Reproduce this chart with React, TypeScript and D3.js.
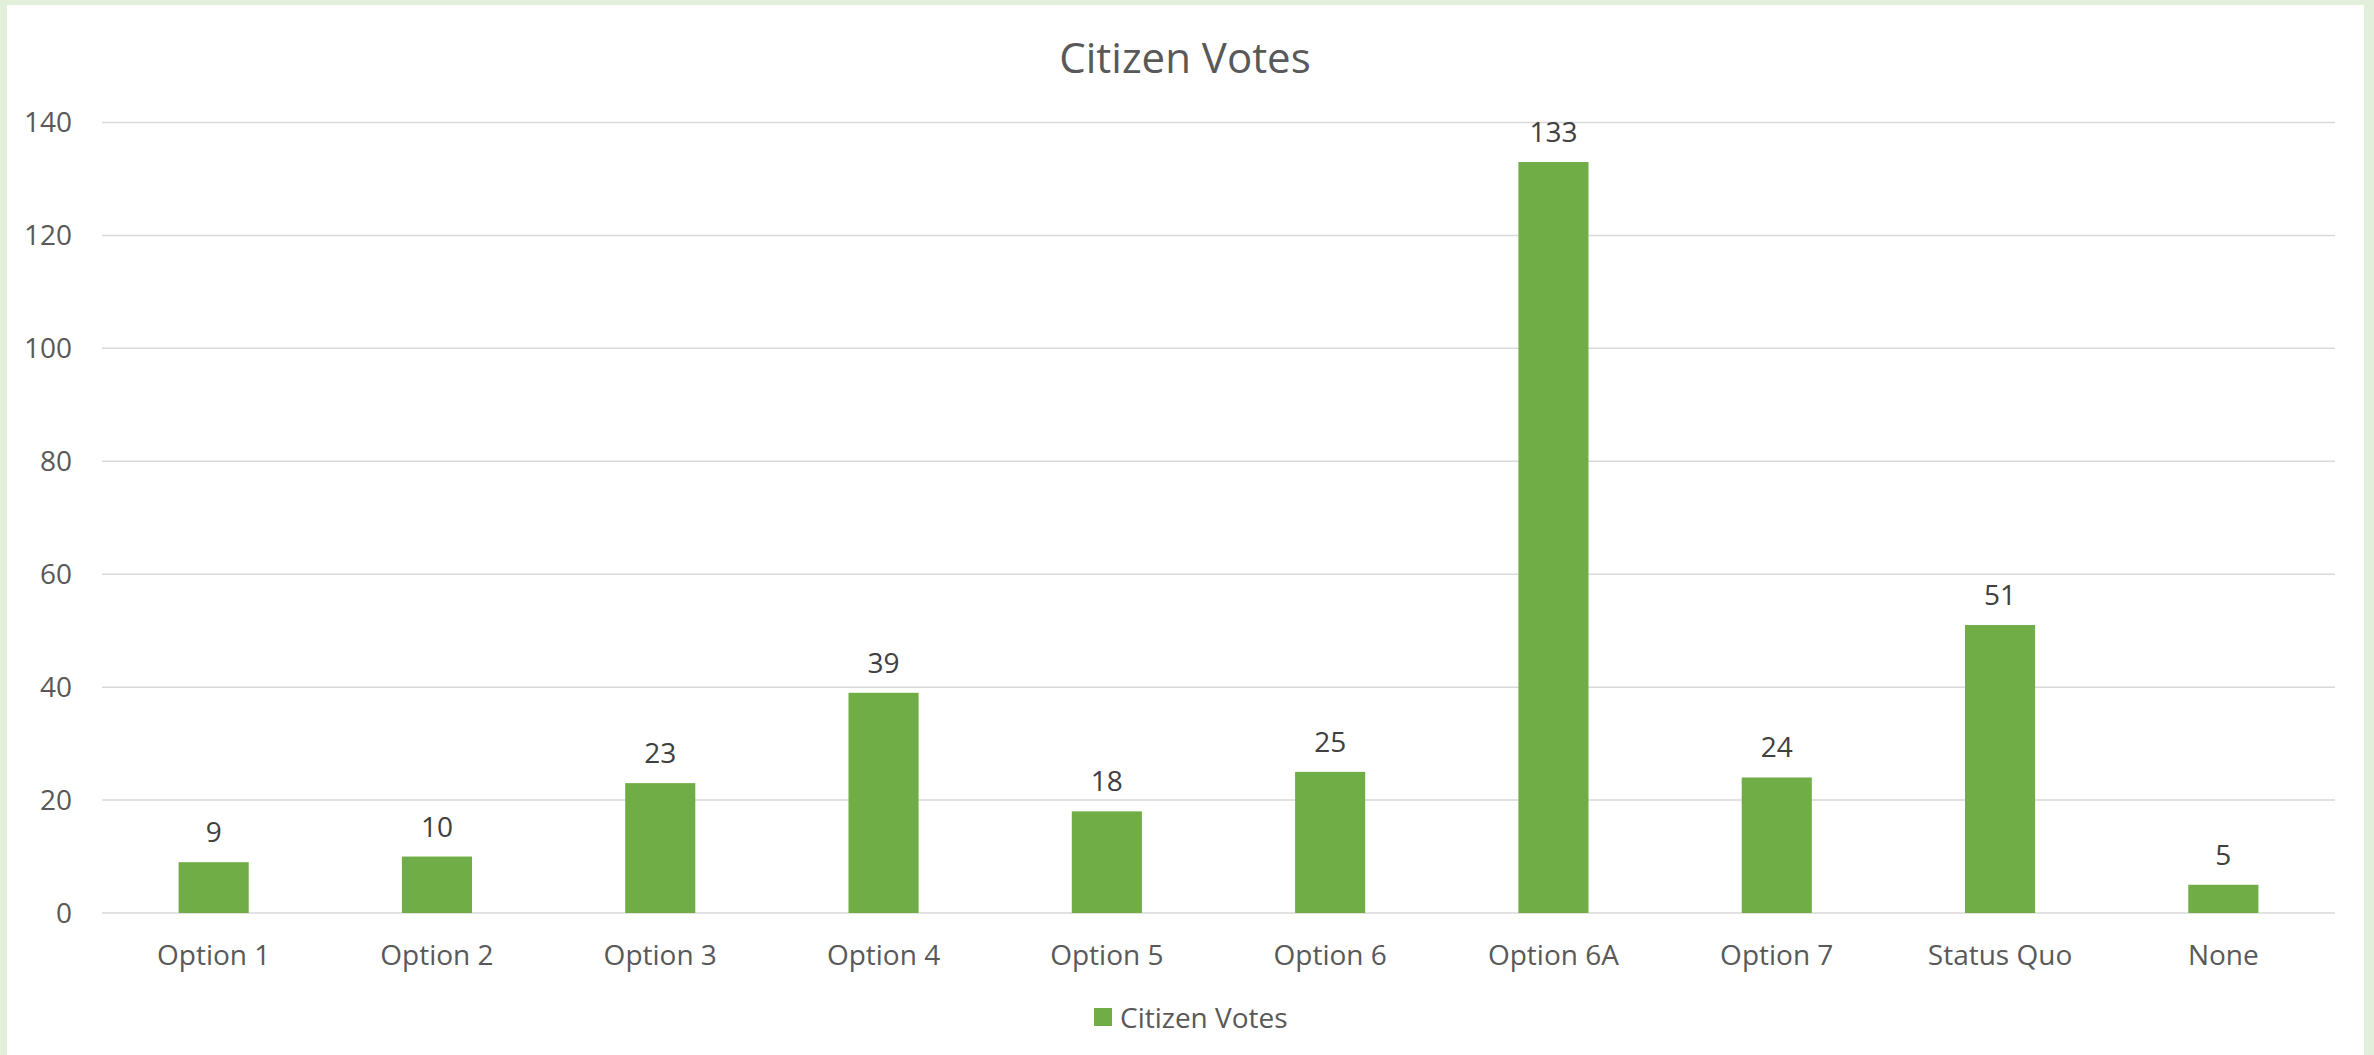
import React from "react";
import * as d3 from "d3";

const categories = ["Option 1", "Option 2", "Option 3", "Option 4", "Option 5", "Option 6", "Option 6A", "Option 7", "Status Quo", "None"];
const votes = [9, 10, 23, 39, 18, 25, 133, 24, 51, 5];
const yTicks = [0, 20, 40, 60, 80, 100, 120, 140];
const seriesName = "Citizen Votes";
const title = "Citizen Votes";

const W = 2374;
const H = 1055;
const FONT = "'Open Sans', 'Noto Sans', sans-serif";

export default function App() {
  const x = d3.scaleBand<string>().domain(categories).range([102, 2335]).paddingInner(0.686).paddingOuter(0.343);
  const y = d3.scaleLinear().domain([0, 140]).range([913, 122.5]);

  return (
    <div style={{ position: "absolute", left: 0, top: 0 }}>
      <svg width={W} height={H} style={{ display: "block" }}>
        <rect x={0} y={0} width={W} height={H} fill="#E2EFDA" />
        <rect x={7} y={5} width={W - 17} height={H - 5} fill="#FFFFFF" />
        <text x={1185} y={73} textAnchor="middle" fontFamily={FONT} fontSize={42} fill="#595959">
          {title}
        </text>
        {yTicks.map((t) => (
          <g key={t}>
            <line x1={102} x2={2335} y1={y(t)} y2={y(t)} stroke="#D9D9D9" strokeWidth={1.5} />
            <text x={72} y={y(t)} dy="0.35em" textAnchor="end" fontFamily={FONT} fontSize={28} fill="#595959">
              {t}
            </text>
          </g>
        ))}
        {categories.map((c, i) => {
          const bx = x(c) as number;
          const bw = x.bandwidth();
          const v = votes[i];
          return (
            <g key={c}>
              <rect x={bx} y={y(v)} width={bw} height={y(0) - y(v)} fill="#70AD47" />
              <text x={bx + bw / 2} y={y(v) - 20} textAnchor="middle" fontFamily={FONT} fontSize={28} fill="#404040">
                {v}
              </text>
              <text x={bx + bw / 2} y={965} textAnchor="middle" fontFamily={FONT} fontSize={28} fill="#595959">
                {c}
              </text>
            </g>
          );
        })}
        <rect x={1094} y={1008} width={18} height={18} fill="#70AD47" />
        <text x={1120} y={1028} fontFamily={FONT} fontSize={28} fill="#595959">
          {seriesName}
        </text>
      </svg>
    </div>
  );
}
